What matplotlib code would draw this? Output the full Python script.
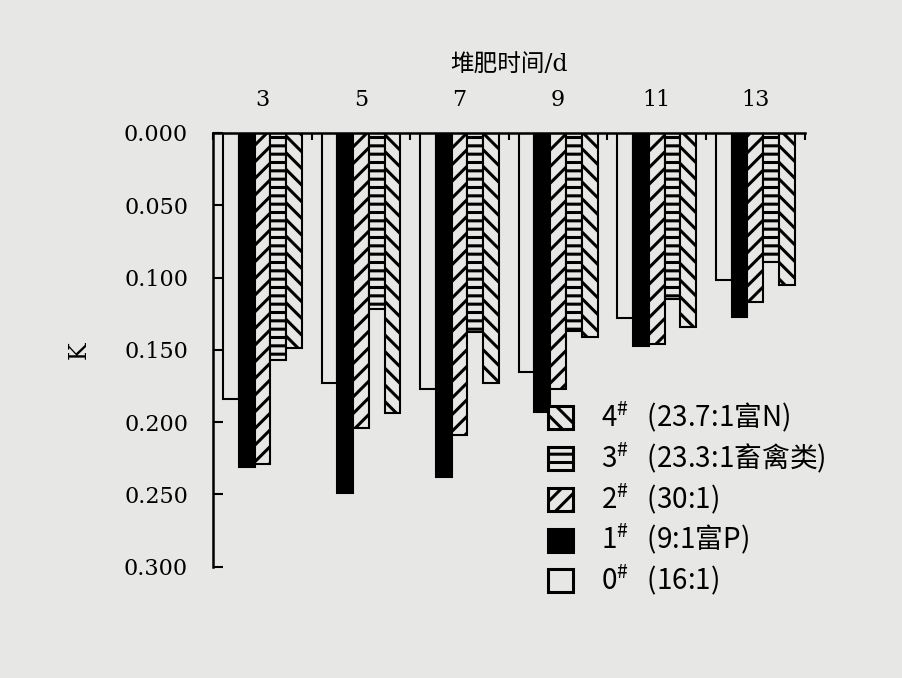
import numpy as np
import matplotlib
matplotlib.use("Agg")
import matplotlib.pyplot as plt
from matplotlib.patches import Patch

# composting days
days = ["3", "5", "7", "9", "11", "13"]

# K values for each treatment
k0 = [0.184, 0.173, 0.177, 0.165, 0.128, 0.102]
k1 = [0.231, 0.249, 0.238, 0.193, 0.147, 0.127]
k2 = [0.229, 0.204, 0.209, 0.177, 0.146, 0.117]
k3 = [0.157, 0.122, 0.138, 0.137, 0.115, 0.089]
k4 = [0.149, 0.194, 0.173, 0.141, 0.134, 0.105]

labels = ["0$^{\\#}$   (16:1)",
          "1$^{\\#}$   (9:1富P)",
          "2$^{\\#}$   (30:1)",
          "3$^{\\#}$   (23.3:1畜禽类)",
          "4$^{\\#}$   (23.7:1富N)"]

bg = "#e7e7e5"
plt.rcParams['font.family'] = ['DejaVu Serif', 'Noto Sans CJK SC']
plt.rcParams['hatch.linewidth'] = 2.2
# legend labels go through mathtext (for the superscript #), so the whole
# legend uses a CJK font that also has latin glyphs
plt.rcParams['mathtext.fontset'] = 'custom'
plt.rcParams['mathtext.rm'] = 'Noto Sans CJK SC'
plt.rcParams['mathtext.it'] = 'Noto Sans CJK SC'

fig = plt.figure(figsize=(9.03, 6.78), dpi=100, facecolor=bg)
ax = fig.add_axes([0.236, 0.164, 0.655, 0.640])
ax.set_facecolor(bg)

series = [k0, k1, k2, k3, k4]
faces = [bg, "black", bg, bg, bg]
hatches = [None, None, "//", "--", "\\\\"]
x = np.arange(len(days))
w = 0.16

handles = []
for j, vals in enumerate(series):
    ax.bar(x + (j - 2) * w, vals, w, color=faces[j], edgecolor="black",
           hatch=hatches[j], linewidth=1.5)
    handles.append(Patch(facecolor=faces[j], edgecolor="black",
                         hatch=hatches[j], linewidth=2.2, label=labels[j]))

ax.set_xlim(-0.5, len(days) - 0.5)
ax.set_ylim(0.3, 0.0)
ax.set_yticks([0.0, 0.05, 0.10, 0.15, 0.20, 0.25, 0.30])
ax.set_yticklabels(["%.3f" % v for v in ax.get_yticks()])

ax.xaxis.tick_top()
ax.xaxis.set_label_position("top")
ax.set_xticks(x)
ax.set_xticklabels(days)
ax.set_xticks(np.arange(-0.5, len(days)), minor=True)
ax.tick_params(axis="x", which="major", length=0, pad=16, labelsize=16)
ax.tick_params(axis="x", which="minor", direction="in", length=5, width=1.5)
ax.tick_params(axis="y", direction="in", length=7, width=1.5, pad=18,
               labelsize=16)

for s in ["bottom", "right"]:
    ax.spines[s].set_visible(False)
for s in ["top", "left"]:
    ax.spines[s].set_linewidth(1.8)

ax.set_xlabel("堆肥时间/d", fontsize=17, labelpad=12)
ax.set_ylabel("K", fontsize=17, labelpad=24, rotation=90)

fig.legend(handles=handles[::-1], loc="upper left",
           bbox_to_anchor=(523 / 903, 1 - 375 / 678),
           frameon=False, prop={"family": ["Noto Sans CJK SC"], "size": 20},
           handlelength=0.9, handleheight=0.9,
           labelspacing=0.2, handletextpad=1.0)

fig.savefig("out.png", dpi=100, facecolor=bg)
